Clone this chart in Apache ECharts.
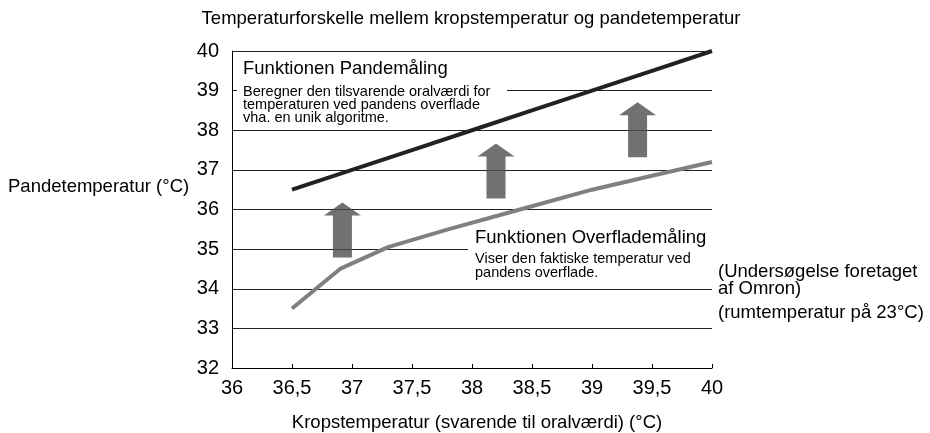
<!DOCTYPE html>
<html>
<head>
<meta charset="utf-8">
<script src="https://cdn.jsdelivr.net/npm/echarts@6/dist/echarts.min.js"></script>
<style>
  html, body { margin: 0; padding: 0; background: #fff; }
  #main { width: 930px; height: 433px; }
</style>
</head>
<body>
<div id="main"></div>
<script>
// akser
var xTicks = [36, 36.5, 37, 37.5, 38, 38.5, 39, 39.5, 40];
var yTicks = [32, 33, 34, 35, 36, 37, 38, 39, 40];

// Funktionen Pandemåling (sort linje)
var pandeX = [36.5, 37, 37.5, 38, 38.5, 39, 39.5, 40];
var pandeY = [36.5, 37, 37.5, 38, 38.5, 39, 39.5, 40];

// Funktionen Overflademåling (grå linje)
var overX = [36.5, 36.9, 37.3, 37.8, 38.4, 39, 39.5, 40];
var overY = [33.5, 34.5, 35.05, 35.5, 36.0, 36.5, 36.85, 37.2];

// pile (midtpunkt)
var arrowX = [36.92, 38.2, 39.38];
var arrowY = [35.48, 36.97, 38.01];

var font = 'Liberation Sans, Arial, sans-serif';

function zip(a, b) {
    var out = [];
    for (var i = 0; i < a.length; i++) out.push([a[i], b[i]]);
    return out;
}

function txt(x, y, s, size, lh, va) {
    return {
        type: 'text', x: x, y: y, z: 10,
        style: {
            text: s, font: size + 'px ' + font, fill: '#000',
            lineHeight: lh, verticalAlign: va || 'middle'
        }
    };
}

var chart = echarts.init(document.getElementById('main'));

var option = {
    backgroundColor: '#fff',
    animation: false,
    textStyle: { fontFamily: font, color: '#000' },
    title: {
        text: 'Temperaturforskelle mellem kropstemperatur og pandetemperatur',
        left: 466, top: 4, textAlign: 'center',
        textStyle: { fontSize: 18.5, fontWeight: 'normal', color: '#000', fontFamily: font }
    },
    grid: { left: 232, right: 218, top: 51, bottom: 65, outerBoundsMode: 'none', containLabel: false },
    xAxis: {
        type: 'value',
        min: xTicks[0], max: xTicks[xTicks.length - 1], interval: 0.5,
        name: 'Kropstemperatur (svarende til oralværdi) (°C)',
        nameLocation: 'middle', nameGap: 45,
        nameTextStyle: { fontSize: 18.5, color: '#000', padding: [0, 0, 0, 10] },
        axisLine: { lineStyle: { color: '#000', width: 1 } },
        axisTick: { inside: true, length: 4, lineStyle: { color: '#000' } },
        axisLabel: {
            fontSize: 20, color: '#000', margin: 10,
            formatter: function (v) { return String(v).replace('.', ','); }
        },
        splitLine: { show: false }
    },
    yAxis: {
        type: 'value',
        min: yTicks[0], max: yTicks[yTicks.length - 1], interval: 1,
        axisLine: { show: true, lineStyle: { color: '#000', width: 1 } },
        axisTick: { show: false },
        axisLabel: { fontSize: 20, color: '#000', margin: 13 },
        splitLine: { lineStyle: { color: '#222', width: 1 } }
    },
    graphic: [
        txt(8, 187, 'Pandetemperatur (°C)', 18.5),
        // tekstboks: Pandemåling
        { type: 'rect', z: 1, shape: { x: 237, y: 55, width: 270, height: 70 }, style: { fill: '#fff' } },
        txt(243, 68.5, 'Funktionen Pandemåling', 18.5),
        txt(243, 85, 'Beregner den tilsvarende oralværdi for\ntemperaturen ved pandens overflade\nvha. en unik algoritme.', 14.5, 13.3, 'top'),
        // tekstboks: Overflademåling
        { type: 'rect', z: 1, shape: { x: 468, y: 227, width: 250, height: 55 }, style: { fill: '#fff' } },
        txt(475, 238, 'Funktionen Overflademåling', 18.5),
        txt(475, 252.6, 'Viser den faktiske temperatur ved\npandens overflade.', 14.5, 13.4, 'top'),
        // noter
        txt(718, 263, '(Undersøgelse foretaget\naf Omron)', 18.5, 17.6, 'top'),
        txt(718, 313, '(rumtemperatur på 23°C)', 18.5)
    ],
    series: [
        {
            name: 'Pandemåling', type: 'line', z: 5,
            data: zip(pandeX, pandeY),
            showSymbol: false, symbol: 'none',
            lineStyle: { color: '#222', width: 4 }
        },
        {
            name: 'Overflademåling', type: 'line', z: 5,
            data: zip(overX, overY),
            showSymbol: false, symbol: 'none',
            lineStyle: { color: '#808080', width: 4 }
        },
        {
            name: 'pile', type: 'scatter', z: 4,
            data: zip(arrowX, arrowY),
            symbol: 'path://M18.5,0 L37,13 L28,13 L28,55 L9,55 L9,13 L0,13 Z',
            symbolSize: [37, 55], symbolKeepAspect: false,
            itemStyle: { color: '#4d4d4d' }
        }
    ]
};

chart.setOption(option);
</script>
</body>
</html>
